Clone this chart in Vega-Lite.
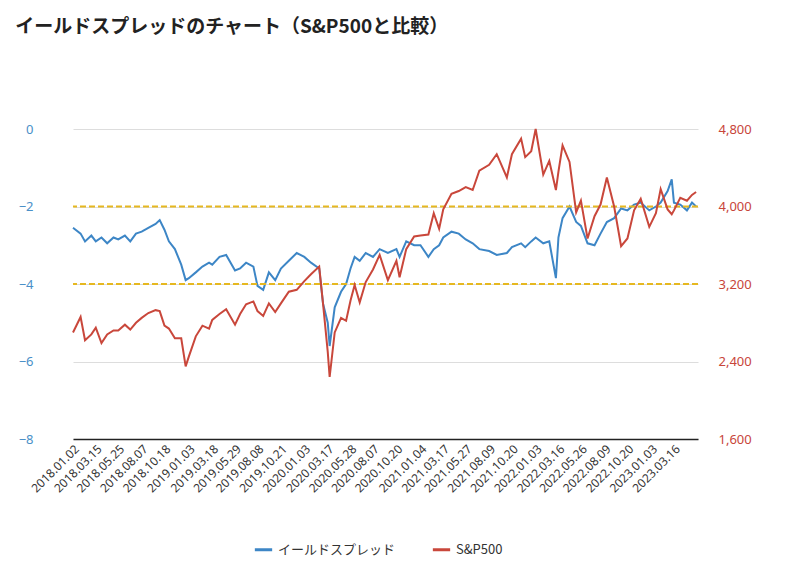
{
  "$schema": "https://vega.github.io/schema/vega-lite/v6.json",
  "width": 625,
  "height": 310,
  "padding": {"left": 15, "top": 18, "right": 20, "bottom": 10},
  "title": {"text": "イールドスプレッドのチャート（S&P500と比較）", "anchor": "start", "frame": "bounds", "fontSize": 19, "font": "Noto Sans CJK JP", "fontWeight": "bold", "color": "#222", "offset": 86, "dx": -3},
  "config": {"font": "Noto Sans CJK JP", "view": {"stroke": null}},
  "data": {"values": [
    {"d": "2018-01-02", "s": -2.55, "p": 2700},
    {"d": "2018-01-26", "s": -2.7, "p": 2860},
    {"d": "2018-02-09", "s": -2.9, "p": 2620},
    {"d": "2018-03-01", "s": -2.75, "p": 2680},
    {"d": "2018-03-15", "s": -2.9, "p": 2750},
    {"d": "2018-04-02", "s": -2.8, "p": 2590},
    {"d": "2018-04-20", "s": -2.95, "p": 2680},
    {"d": "2018-05-10", "s": -2.8, "p": 2720},
    {"d": "2018-05-25", "s": -2.85, "p": 2720},
    {"d": "2018-06-15", "s": -2.75, "p": 2780},
    {"d": "2018-07-02", "s": -2.9, "p": 2730},
    {"d": "2018-07-20", "s": -2.7, "p": 2800},
    {"d": "2018-08-07", "s": -2.65, "p": 2850},
    {"d": "2018-08-28", "s": -2.55, "p": 2900},
    {"d": "2018-09-20", "s": -2.45, "p": 2930},
    {"d": "2018-10-03", "s": -2.35, "p": 2920},
    {"d": "2018-10-18", "s": -2.6, "p": 2770},
    {"d": "2018-11-01", "s": -2.9, "p": 2740},
    {"d": "2018-11-20", "s": -3.1, "p": 2640},
    {"d": "2018-12-10", "s": -3.5, "p": 2640},
    {"d": "2018-12-24", "s": -3.9, "p": 2350},
    {"d": "2019-01-03", "s": -3.85, "p": 2450},
    {"d": "2019-01-25", "s": -3.7, "p": 2660},
    {"d": "2019-02-15", "s": -3.55, "p": 2770},
    {"d": "2019-03-08", "s": -3.45, "p": 2740},
    {"d": "2019-03-18", "s": -3.5, "p": 2830},
    {"d": "2019-04-10", "s": -3.3, "p": 2890},
    {"d": "2019-05-01", "s": -3.25, "p": 2940},
    {"d": "2019-05-29", "s": -3.65, "p": 2780},
    {"d": "2019-06-14", "s": -3.6, "p": 2890},
    {"d": "2019-07-03", "s": -3.45, "p": 2990},
    {"d": "2019-07-26", "s": -3.55, "p": 3020},
    {"d": "2019-08-08", "s": -4.05, "p": 2920},
    {"d": "2019-08-26", "s": -4.15, "p": 2870},
    {"d": "2019-09-13", "s": -3.7, "p": 3000},
    {"d": "2019-10-03", "s": -3.9, "p": 2910},
    {"d": "2019-10-21", "s": -3.6, "p": 3000},
    {"d": "2019-11-15", "s": -3.4, "p": 3120},
    {"d": "2019-12-10", "s": -3.2, "p": 3140},
    {"d": "2020-01-03", "s": -3.3, "p": 3230},
    {"d": "2020-01-24", "s": -3.45, "p": 3300},
    {"d": "2020-02-19", "s": -3.6, "p": 3380},
    {"d": "2020-03-02", "s": -4.5, "p": 3000},
    {"d": "2020-03-17", "s": -5.0, "p": 2500},
    {"d": "2020-03-23", "s": -5.6, "p": 2240},
    {"d": "2020-04-08", "s": -4.6, "p": 2700},
    {"d": "2020-04-28", "s": -4.2, "p": 2850},
    {"d": "2020-05-14", "s": -4.0, "p": 2820},
    {"d": "2020-05-28", "s": -3.6, "p": 3030},
    {"d": "2020-06-10", "s": -3.3, "p": 3190},
    {"d": "2020-06-26", "s": -3.4, "p": 3010},
    {"d": "2020-07-15", "s": -3.2, "p": 3220},
    {"d": "2020-08-07", "s": -3.3, "p": 3350},
    {"d": "2020-08-28", "s": -3.1, "p": 3500},
    {"d": "2020-09-23", "s": -3.2, "p": 3240},
    {"d": "2020-10-20", "s": -3.1, "p": 3440},
    {"d": "2020-10-30", "s": -3.3, "p": 3270},
    {"d": "2020-11-20", "s": -2.9, "p": 3560},
    {"d": "2020-12-15", "s": -3.0, "p": 3690},
    {"d": "2021-01-04", "s": -3.0, "p": 3700},
    {"d": "2021-01-29", "s": -3.3, "p": 3710},
    {"d": "2021-02-15", "s": -3.1, "p": 3930},
    {"d": "2021-03-04", "s": -3.0, "p": 3770},
    {"d": "2021-03-17", "s": -2.8, "p": 3970},
    {"d": "2021-04-12", "s": -2.65, "p": 4130},
    {"d": "2021-05-05", "s": -2.7, "p": 4160},
    {"d": "2021-05-27", "s": -2.85, "p": 4200},
    {"d": "2021-06-18", "s": -2.95, "p": 4170},
    {"d": "2021-07-09", "s": -3.1, "p": 4370},
    {"d": "2021-08-09", "s": -3.15, "p": 4430},
    {"d": "2021-09-02", "s": -3.25, "p": 4540},
    {"d": "2021-10-04", "s": -3.2, "p": 4300},
    {"d": "2021-10-20", "s": -3.05, "p": 4540},
    {"d": "2021-11-18", "s": -2.95, "p": 4700},
    {"d": "2021-12-01", "s": -3.05, "p": 4510},
    {"d": "2021-12-20", "s": -2.9, "p": 4570},
    {"d": "2022-01-03", "s": -2.8, "p": 4800},
    {"d": "2022-01-27", "s": -2.95, "p": 4330},
    {"d": "2022-02-15", "s": -2.9, "p": 4470},
    {"d": "2022-03-08", "s": -3.85, "p": 4170},
    {"d": "2022-03-16", "s": -2.8, "p": 4360},
    {"d": "2022-03-29", "s": -2.3, "p": 4630},
    {"d": "2022-04-20", "s": -2.0, "p": 4460},
    {"d": "2022-05-11", "s": -2.4, "p": 3940},
    {"d": "2022-05-26", "s": -2.5, "p": 4060},
    {"d": "2022-06-16", "s": -2.95, "p": 3670},
    {"d": "2022-07-08", "s": -3.0, "p": 3900},
    {"d": "2022-07-27", "s": -2.7, "p": 4020},
    {"d": "2022-08-16", "s": -2.4, "p": 4300},
    {"d": "2022-09-08", "s": -2.3, "p": 4000},
    {"d": "2022-09-30", "s": -2.05, "p": 3590},
    {"d": "2022-10-20", "s": -2.1, "p": 3670},
    {"d": "2022-11-10", "s": -1.95, "p": 3960},
    {"d": "2022-12-01", "s": -1.9, "p": 4080},
    {"d": "2022-12-28", "s": -2.1, "p": 3790},
    {"d": "2023-01-18", "s": -2.0, "p": 3930},
    {"d": "2023-02-02", "s": -1.9, "p": 4180},
    {"d": "2023-02-24", "s": -1.6, "p": 3970},
    {"d": "2023-03-09", "s": -1.3, "p": 3920},
    {"d": "2023-03-16", "s": -1.9, "p": 3960},
    {"d": "2023-04-05", "s": -1.95, "p": 4090},
    {"d": "2023-04-26", "s": -2.1, "p": 4060},
    {"d": "2023-05-12", "s": -1.9, "p": 4120},
    {"d": "2023-05-25", "s": -2.0, "p": 4150}
  ]},
  "encoding": {
    "x": {"field": "d", "type": "temporal", "title": null,
      "scale": {"domain": ["2018-01-02", "2023-05-31"]},
      "axis": {"values": ["2018-01-02", "2018-03-15", "2018-05-25", "2018-08-07", "2018-10-18", "2019-01-03", "2019-03-18", "2019-05-29", "2019-08-08", "2019-10-21", "2020-01-03", "2020-03-17", "2020-05-28", "2020-08-07", "2020-10-20", "2021-01-04", "2021-03-17", "2021-05-27", "2021-08-09", "2021-10-20", "2022-01-03", "2022-03-16", "2022-05-26", "2022-08-09", "2022-10-20", "2023-01-03", "2023-03-16"],
        "format": "%Y.%m.%d", "labelAngle": -45, "labelFontSize": 12, "labelColor": "#333", "labelFont": "Noto Sans",
        "domainColor": "#222", "domainWidth": 1.5, "ticks": false, "grid": false, "labelOverlap": false, "labelPadding": 4}}
  },
  "layer": [
    {
      "layer": [
        {"mark": {"type": "line", "strokeWidth": 2},
          "encoding": {
            "y": {"field": "s", "type": "quantitative", "title": null,
              "scale": {"domain": [-8, 0]},
              "axis": {"orient": "left", "values": [-8, -7.5, -7, -6.5, -6, -5.5, -5, -4.5, -4, -3.5, -3, -2.5, -2, -1.5, -1, -0.5, 0],
                "labelExpr": "datum.value % 2 == 0 ? datum.label : ''", "labelColor": "#4a90c8", "labelFontSize": 13, "labelFont": "Noto Sans",
                "domain": false, "ticks": false, "gridColor": "#dddddd", "labelPadding": 40}},
            "color": {"datum": "イールドスプレッド", "type": "nominal",
              "scale": {"domain": ["イールドスプレッド", "S&P500"], "range": ["#3d86c6", "#c9473b"]},
              "legend": {"orient": "none", "legendX": 180, "legendY": 410, "direction": "horizontal", "title": null, "symbolType": "stroke", "symbolStrokeWidth": 3, "symbolSize": 300, "labelFontSize": 13, "labelColor": "#333", "columnPadding": 30}}}},
        {"data": {"values": [{"v": -2}, {"v": -4}]},
          "mark": {"type": "rule", "color": "#e6b820", "strokeDash": [6, 3], "strokeWidth": 2},
          "encoding": {"y": {"field": "v", "type": "quantitative"}, "x": null}}
      ]
    },
    {"mark": {"type": "line", "strokeWidth": 2},
      "encoding": {
        "y": {"field": "p", "type": "quantitative", "title": null,
          "scale": {"domain": [1600, 4800]},
          "axis": {"orient": "right", "values": [1600, 2400, 3200, 4000, 4800], "labelExpr": "format(datum.value, ',')", "labelColor": "#c8453a", "labelFontSize": 13, "labelFont": "Noto Sans",
            "domain": false, "ticks": false, "grid": false, "labelPadding": 20}},
        "color": {"datum": "S&P500", "type": "nominal"}}}
  ],
  "resolve": {"scale": {"y": "independent", "color": "shared"}}
}
